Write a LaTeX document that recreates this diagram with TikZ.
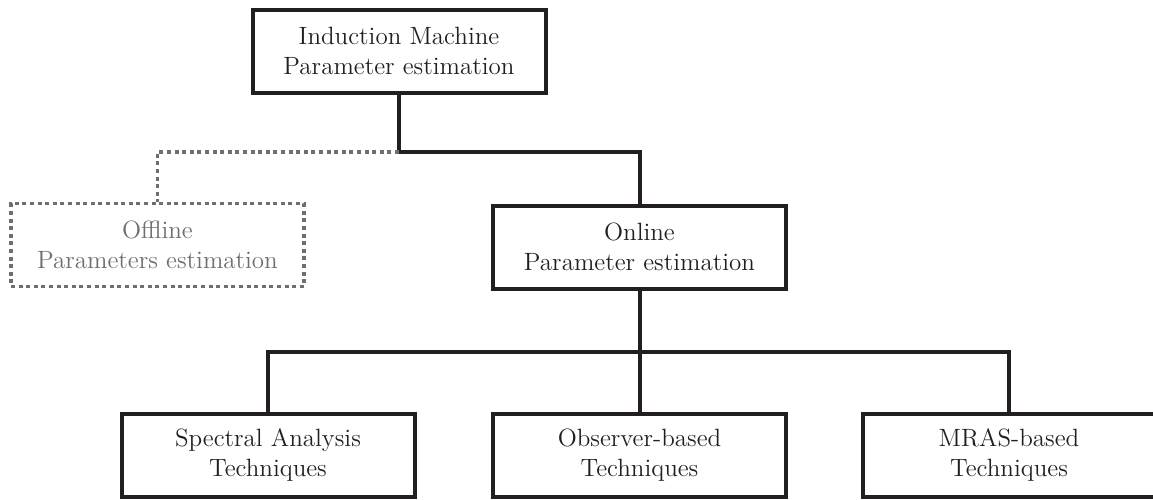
\documentclass[tikz,border=0pt]{standalone}
\usepackage{tikz}

\definecolor{inkdark}{HTML}{231F20}
\definecolor{inkgray}{HTML}{6D6E70}

\begin{document}
\begin{tikzpicture}[x=0.5pt,y=-0.5pt,
  box/.style={draw=inkdark, line width=2pt, text=inkdark,
    minimum width=146.5pt, minimum height=41.5pt, inner sep=0pt,
    align=center, font=\fontsize{12.5}{15}\selectfont},
  offbox/.style={draw=inkgray, text=inkgray, line width=1.8pt,
    dash pattern=on 2pt off 1.8pt},
  link/.style={draw=inkdark, line width=2pt},
  dotlink/.style={draw=inkgray, line width=1.8pt, dash pattern=on 2pt off 1.8pt}]

\useasboundingbox (0,0) rectangle (1153,499);

% the boxes
\node[box] (machine) at (399,51) {Induction Machine\\Parameter estimation};
\node[box, offbox] (offline) at (157.5,245) {Offline\\Parameters estimation};
\node[box] (online) at (639.5,247) {Online\\Parameter estimation};
\node[box] (spectral) at (268,455) {Spectral Analysis\\Techniques};
\node[box] (observer) at (639.5,455) {Observer-based\\Techniques};
\node[box] (mras) at (1009,455) {MRAS-based\\Techniques};

% branching points
\coordinate (split) at (399,152);
\coordinate (branch) at (639.5,352);

% connections
\draw[link] (machine.south) -- (split) -| (online.north);
\draw[dotlink] (split) -| (offline.north);
\draw[link] (online.south) -- (branch);
\draw[link] (spectral.north) |- (branch) -| (mras.north);
\draw[link] (branch) -- (observer.north);

\end{tikzpicture}
\end{document}
